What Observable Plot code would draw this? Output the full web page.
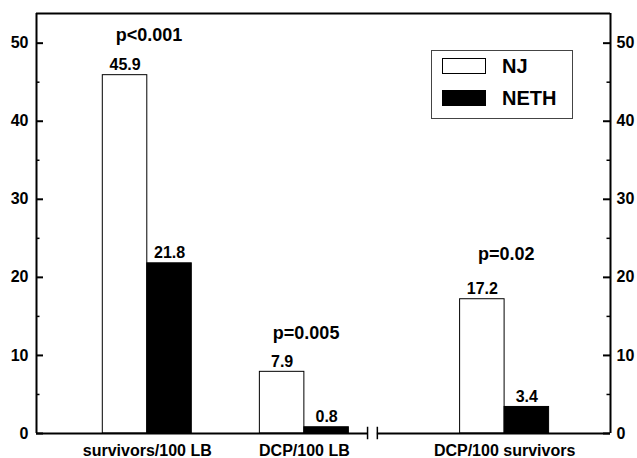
<!DOCTYPE html>
<html>
<head>
<meta charset="utf-8">
<script src="https://cdn.jsdelivr.net/npm/d3@7"></script>
<script src="https://cdn.jsdelivr.net/npm/@observablehq/plot@0.6"></script>
<style>
  body { margin: 0; background: #fff; }
  #wrap { position: relative; width: 637px; height: 458px; font-family: "Liberation Sans", Arial, sans-serif; }
  .legend { position: absolute; left: 431px; top: 50px; width: 140px; height: 67px; border: 1px solid #444; background: #fff; }
  .sw { position: absolute; left: 10px; width: 42px; height: 14px; border: 1px solid #000; }
  .lab { position: absolute; left: 70px; font-size: 20px; font-weight: bold; line-height: 18px; }
</style>
</head>
<body>
<div id="wrap"></div>
<script>
// ---- data ----
const categories = ["survivors/100 LB", "DCP/100 LB", "DCP/100 survivors"];
const seriesNames = ["NJ", "NETH"];
const njValues = [45.9, 7.9, 17.2];
const nethValues = [21.8, 0.8, 3.4];
const pLabels = ["p<0.001", "p=0.005", "p=0.02"];
const yTicks = [0, 10, 20, 30, 40, 50];
const yMinorTicks = [5, 15, 25, 35, 45];

// ---- layout (in bar-width units) ----
const XMAX = 12.9;
const groupCenter = [2.49, 6.02, 10.52];
const breakAt = [7.44, 7.66];
const YMAX = 53.8;
const plotW = 637 - 36 - 27;
const pxX = XMAX / plotW; // units per px
const pOffset = [-34, -33, -39];

const bars = [];
categories.forEach((c, i) => {
  bars.push({cat: c, series: "NJ", value: njValues[i], x1: groupCenter[i] - 1, x2: groupCenter[i]});
  bars.push({cat: c, series: "NETH", value: nethValues[i], x1: groupCenter[i], x2: groupCenter[i] + 1});
});

const font = "Liberation Sans, Arial, sans-serif";

const pMarks = categories.map((c, i) =>
  Plot.text([pLabels[i]], {
    x: () => groupCenter[i] - 0.5, y: () => njValues[i], text: d => d,
    dx: 24, dy: pOffset[i], lineAnchor: "bottom", fontSize: 18, fontWeight: "bold", fill: "#000"
  })
);

const chart = Plot.plot({
  width: 637, height: 458,
  marginLeft: 36, marginRight: 27, marginTop: 13, marginBottom: 25,
  style: {fontFamily: font, background: "#fff", color: "#000"},
  x: {type: "linear", domain: [0, XMAX], axis: null},
  y: {domain: [0, YMAX], axis: null},
  marks: [
    Plot.rectY(bars, {
      x1: "x1", x2: "x2", y1: 0, y2: "value",
      fill: d => d.series === "NJ" ? "#fff" : "#000",
      stroke: "#000", strokeWidth: 1
    }),
    Plot.text(bars, {
      x: d => (d.x1 + d.x2) / 2, y: "value", text: d => d.value.toFixed(1),
      lineAnchor: "bottom", dy: -5, fontSize: 16, fontWeight: "bold", fill: "#000"
    }),
    ...pMarks,
    Plot.text(categories, {
      x: (d, i) => groupCenter[i], y: () => 0, text: d => d,
      lineAnchor: "bottom", dy: 22, fontSize: 16, fontWeight: "bold", fill: "#000"
    }),
    // frame
    Plot.ruleX([0, XMAX], {y1: 0, y2: YMAX, stroke: "#000", strokeWidth: 2}),
    Plot.ruleY([YMAX], {x1: 0, x2: XMAX, stroke: "#000", strokeWidth: 2}),
    Plot.ruleY([[0, breakAt[0]], [breakAt[1], XMAX]], {x1: d => d[0], x2: d => d[1], y: () => 0, stroke: "#000", strokeWidth: 2}),
    Plot.ruleX(breakAt, {y1: -0.8, y2: 0.8, stroke: "#000", strokeWidth: 1.5}),
    // ticks
    Plot.ruleY(yTicks, {x1: () => 0, x2: () => 7 * pxX, stroke: "#000", strokeWidth: 2}),
    Plot.ruleY(yTicks, {x1: () => XMAX - 7 * pxX, x2: () => XMAX, stroke: "#000", strokeWidth: 2}),
    Plot.ruleY(yMinorTicks, {x1: () => 0, x2: () => 3.5 * pxX, stroke: "#000", strokeWidth: 1.5}),
    Plot.ruleY(yMinorTicks, {x1: () => XMAX - 3.5 * pxX, x2: () => XMAX, stroke: "#000", strokeWidth: 1.5}),
    Plot.axisY({anchor: "left", ticks: yTicks, tickSize: 0, tickPadding: 8, fontSize: 16, fontWeight: "bold", label: null}),
    Plot.axisY({anchor: "right", ticks: yTicks, tickSize: 0, tickPadding: 6, fontSize: 16, fontWeight: "bold", label: null})
  ]
});

const wrap = document.getElementById("wrap");
wrap.appendChild(chart);

// legend overlay
const legend = document.createElement("div");
legend.className = "legend";
seriesNames.forEach((s, i) => {
  const sw = document.createElement("div");
  sw.className = "sw";
  sw.style.top = (7 + i * 32) + "px";
  sw.style.background = s === "NJ" ? "#fff" : "#000";
  legend.appendChild(sw);
  const lab = document.createElement("div");
  lab.className = "lab";
  lab.style.top = (7 + i * 32 - 1) + "px";
  lab.textContent = s;
  legend.appendChild(lab);
});
wrap.appendChild(legend);
</script>
</body>
</html>
